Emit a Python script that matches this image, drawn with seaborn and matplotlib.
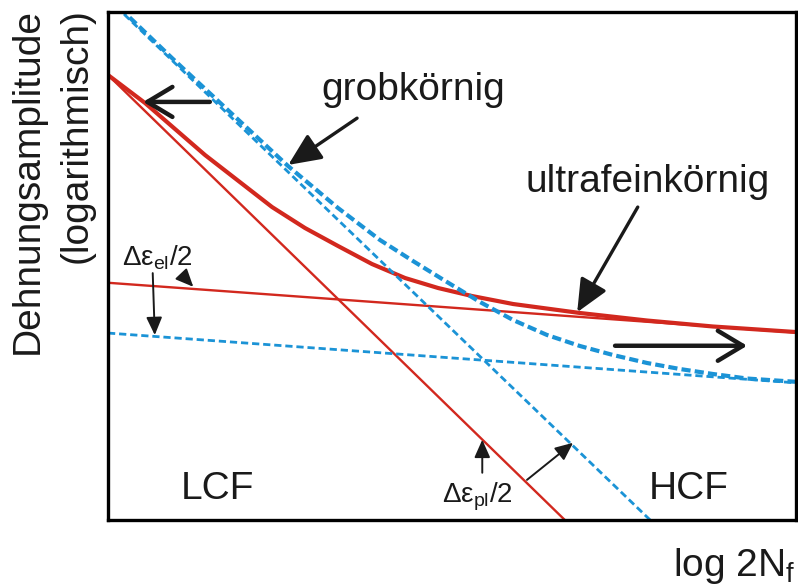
import matplotlib
matplotlib.use("Agg")
import matplotlib.pyplot as plt
import seaborn as sns
import pandas as pd

sns.set_style("white")
plt.rcParams["font.family"] = ["Liberation Sans", "DejaVu Sans"]
plt.rcParams["mathtext.fontset"] = "custom"
plt.rcParams["mathtext.rm"] = "Liberation Sans"
plt.rcParams["mathtext.it"] = "Liberation Sans"
plt.rcParams["mathtext.sf"] = "Liberation Sans"

RED = "#d2281e"
BLUE = "#1b93d6"
INK = "#1a1a1a"

# ---- data (schematic, log-log axes expressed as 0..10 units) ----
el_ufg_x = [0.0, 10.0]
el_ufg_y = [4.67, 3.69]
el_cg_x = [0.0, 10.0]
el_cg_y = [3.68, 2.70]
pl_ufg_x = [0.0, 6.64]
pl_ufg_y = [8.76, 0.0]
pl_cg_x = [0.0, 7.88]
pl_cg_y = [10.26, 0.0]
tot_ufg_x = [0.0, 0.538, 1.410, 2.384, 2.863, 3.343, 3.837, 4.317, 4.797,
             5.291, 5.887, 6.860, 7.834, 8.794, 10.0]
tot_ufg_y = [8.760, 8.209, 7.185, 6.161, 5.748, 5.394, 5.039, 4.764, 4.567,
             4.409, 4.252, 4.075, 3.927, 3.809, 3.70]
tot_cg_x = [0.0, 0.930, 1.773, 2.616, 3.343, 3.953, 4.433, 4.927, 5.407,
            5.887, 6.381, 6.860, 7.340, 7.834, 8.314, 8.794, 9.288, 10.0]
tot_cg_y = [10.30, 9.094, 8.031, 6.969, 6.142, 5.512, 5.098, 4.685, 4.291,
            3.937, 3.642, 3.425, 3.248, 3.091, 2.972, 2.874, 2.785, 2.72]

fig = plt.figure(figsize=(7.98, 5.85), dpi=100)
ax = fig.add_axes([108 / 798, 65 / 585, 688 / 798, 508 / 585])


def draw(x, y, color, lw, dashes=None):
    df = pd.DataFrame({"x": x, "y": y})
    sns.lineplot(data=df, x="x", y="y", ax=ax, color=color, linewidth=lw,
                 sort=False, estimator=None)
    ln = ax.lines[-1]
    ln.set_solid_capstyle("butt")
    ln.set_solid_joinstyle("round")
    if dashes:
        ln.set_dashes(dashes)
        ln.set_dash_capstyle("butt")


draw(el_ufg_x, el_ufg_y, RED, 1.7)
draw(pl_ufg_x, pl_ufg_y, RED, 1.7)
draw(tot_ufg_x, tot_ufg_y, RED, 3.0)
draw(el_cg_x, el_cg_y, BLUE, 2.0, [2.6, 1.4])
draw(pl_cg_x, pl_cg_y, BLUE, 2.0, [2.6, 1.4])
draw(tot_cg_x, tot_cg_y, BLUE, 3.0, [2.2, 1.0])

ax.set_xlim(0, 10)
ax.set_ylim(0, 10)
ax.set_xticks([])
ax.set_yticks([])
ax.set_xlabel("")
ax.set_ylabel("")
for s in ax.spines.values():
    s.set_visible(True)
    s.set_color("black")
    s.set_linewidth(2.4)

FS = 28
ax.text(4.44, 8.27, "grobkörnig", fontsize=FS, ha="center", va="baseline", color=INK)
ax.text(7.84, 6.46, "ultrafeinkörnig", fontsize=FS, ha="center", va="baseline", color=INK)
ax.text(1.59, 0.41, "LCF", fontsize=FS, ha="center", va="baseline", color=INK)
ax.text(8.44, 0.41, "HCF", fontsize=FS, ha="center", va="baseline", color=INK)
ax.text(0.2, 5.0, r"Δε$_{\rm el}$/2", fontsize=20, ha="left", va="baseline", color=INK)
ax.text(4.85, 0.35, r"Δε$_{\rm pl}$/2", fontsize=20, ha="left", va="baseline", color=INK)

big = dict(arrowstyle="->,head_length=1.0,head_width=0.6", lw=3.2, color=INK,
           mutation_scale=18, shrinkA=0, shrinkB=0)
ax.annotate("", xy=(0.51, 8.23), xytext=(1.48, 8.23), arrowprops=big)
ax.annotate("", xy=(9.29, 3.43), xytext=(7.37, 3.43), arrowprops=big)

mid = dict(arrowstyle="-|>,head_length=1.0,head_width=0.45", lw=2.4, color=INK,
           mutation_scale=20, shrinkA=0, shrinkB=0)
ax.annotate("", xy=(2.62, 6.99), xytext=(3.62, 7.91), arrowprops=mid)
ax.annotate("", xy=(6.82, 4.09), xytext=(7.70, 6.16), arrowprops=mid)

small = dict(arrowstyle="-|>,head_length=0.9,head_width=0.4", lw=1.4, color=INK,
             mutation_scale=12, shrinkA=0, shrinkB=0)
ax.annotate("", xy=(1.24, 4.59), xytext=(1.08, 4.82), arrowprops=small)
ax.annotate("", xy=(0.68, 3.64), xytext=(0.65, 4.86), arrowprops=small)
ax.annotate("", xy=(5.44, 1.58), xytext=(5.44, 0.93), arrowprops=small)
ax.annotate("", xy=(6.76, 1.52), xytext=(6.09, 0.79), arrowprops=small)

fig.text(28 / 798, 1 - 8 / 585, "Dehnungsamplitude", rotation=90, fontsize=FS,
         ha="center", va="top", color=INK)
fig.text(77 / 798, 1 - 8 / 585, "(logarithmisch)", rotation=90, fontsize=FS,
         ha="center", va="top", color=INK)
fig.text(795 / 798, 1 - 576 / 585, r"log 2N$_{\rm f}$", fontsize=FS, ha="right",
         va="baseline", color=INK)

fig.savefig("out.png", dpi=100)
